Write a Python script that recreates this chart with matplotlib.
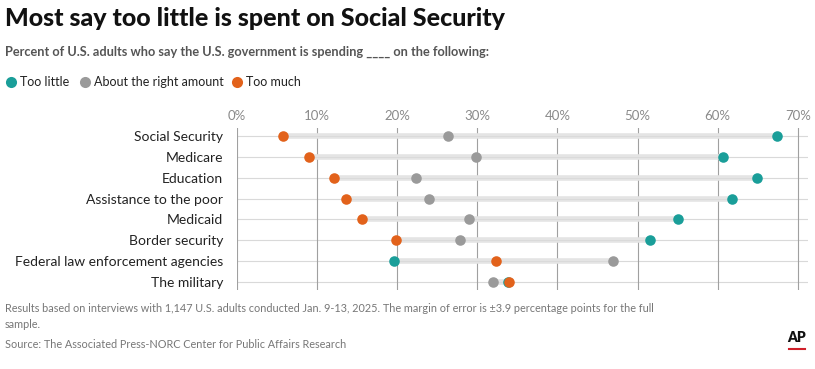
import matplotlib.pyplot as plt
from matplotlib.lines import Line2D
import numpy as np

categories = ["Social Security", "Medicare", "Education", "Assistance to the poor",
              "Medicaid", "Border security", "Federal law enforcement agencies", "The military"]
too_little = [67.4, 60.7, 64.9, 61.8, 55.0, 51.6, 19.6, 33.8]  # military dot hidden under orange
right_amount = [26.4, 29.9, 22.4, 24.0, 29.0, 27.9, 47.0, 32.0]
too_much = [5.7, 9.0, 12.1, 13.6, 15.6, 19.8, 32.3, 34.0]
ticks = [0, 10, 20, 30, 40, 50, 60, 70]

teal = "#1a9e99"
grey = "#9a9a9a"
orange = "#e2621b"

W, H = 815, 369
fig = plt.figure(figsize=(W / 100, H / 100), dpi=100)
ax = fig.add_axes([237 / W, (H - 290) / H, (808 - 237) / W, 162 / H])

y = np.arange(len(categories))
lo = np.minimum.reduce([too_little, right_amount, too_much])
hi = np.maximum.reduce([too_little, right_amount, too_much])

for yi in y:
    ax.axhline(yi, color="#d9d9d9", lw=0.8, zorder=1)
ax.hlines(y, lo, hi, color="#e4e4e4", lw=4, zorder=2)
for yi in y:
    ax.hlines(yi, lo[yi], hi[yi], color="#d9d9d9", lw=0.6, zorder=2.1)
for t in ticks:
    ax.axvline(t, color="#a0a0a0", lw=0.8, zorder=1.5)

ms = 7.6
ax.plot(too_little, y, "o", color=teal, ms=ms, mec="none", zorder=3)
ax.plot(right_amount, y, "o", color=grey, ms=ms, mec="none", zorder=4)
ax.plot(too_much, y, "o", color=orange, ms=ms, mec="none", zorder=5)

ax.set_xlim(0, (808 - 237) / 8.01)
ax.set_ylim(len(categories) - 1 + 0.38, -0.38)
ax.set_xticks(ticks)
ax.set_xticklabels([f"{t}%" for t in ticks])
ax.xaxis.tick_top()
ax.tick_params(axis="x", length=0, pad=4, labelsize=9.5, labelcolor="#8a8a8a")
ax.set_yticks(y)
ax.set_yticklabels(categories)
ax.tick_params(axis="y", length=0, pad=10, labelsize=10, labelcolor="#222222")
for lab in ax.get_xticklabels() + ax.get_yticklabels():
    lab.set_fontfamily("Lato")
for s in ax.spines.values():
    s.set_visible(False)

fig.text(5 / W, 1 - 18 / H, "Most say too little is spent on Social Security",
         fontsize=18, fontweight="black", family="Lato", va="center", color="#111111")
fig.text(5 / W, 1 - 52 / H,
         "Percent of U.S. adults who say the U.S. government is spending ____ on the following:",
         fontsize=9.2, fontweight="bold", family="Lato", va="center", color="#555555")

leg = [("Too little", teal, 11), ("About the right amount", grey, 85), ("Too much", orange, 237)]
for name, c, x in leg:
    fig.add_artist(Line2D([x / W], [1 - 82 / H], marker="o", ms=8, color=c, mec="none"))
    fig.text((x + 9) / W, 1 - 82 / H, name, color="#222222", fontsize=9, family="Lato",
             va="center")

foot = "#777777"
fig.text(5 / W, 1 - 309 / H,
         "Results based on interviews with 1,147 U.S. adults conducted Jan. 9-13, 2025. "
         "The margin of error is \u00b13.9 percentage points for the full",
         fontsize=7.8, family="Lato", color=foot, va="center")
fig.text(5 / W, 1 - 324 / H, "sample.", fontsize=7.8, family="Lato",
         color=foot, va="center")
fig.text(5 / W, 1 - 345 / H, "Source: The Associated Press-NORC Center for Public Affairs Research",
         fontsize=7.8, family="Lato", color=foot, va="center")

fig.text(797 / W, 1 - 338 / H, "AP", fontsize=10, fontweight="heavy",
         family="Lato", ha="center", va="center", color="#111111")
fig.add_artist(Line2D([789 / W, 805 / W], [1 - 349 / H, 1 - 349 / H], color="#d0202a", lw=1.5))

fig.savefig("out.png", dpi=100, facecolor="white")
